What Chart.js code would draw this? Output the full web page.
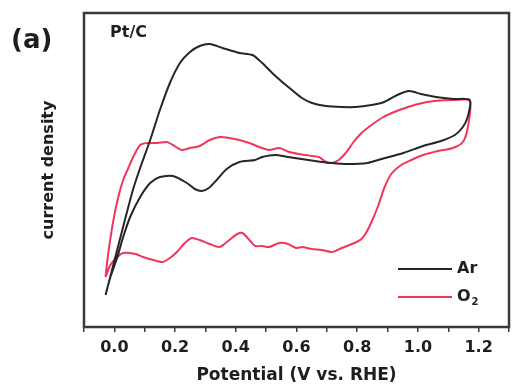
<!DOCTYPE html>
<html>
<head>
<meta charset="utf-8">
<script src="https://cdn.jsdelivr.net/npm/chart.js@4.4.0/dist/chart.umd.min.js"></script>
<style>
  html, body { margin: 0; padding: 0; background: #fff; }
  #wrap { width: 512px; height: 387px; }
</style>
</head>
<body>
<div id="wrap"><canvas id="chartCV" width="512" height="387"></canvas></div>
<script>
// Ar loop (potential V vs RHE, current density arb. units)
const arPotential = [-0.029, -0.006, 0.016, 0.039, 0.062, 0.085, 0.118, 0.150, 0.183, 0.216, 0.249, 0.281, 0.314, 0.356, 0.412, 0.455, 0.487, 0.520, 0.553, 0.585, 0.618, 0.651, 0.697, 0.749, 0.795, 0.847, 0.889, 0.932, 0.971, 1.010, 1.060, 1.118, 1.171,
  1.164, 1.148, 1.122, 1.076, 1.017, 0.952, 0.880, 0.834, 0.768, 0.716, 0.661, 0.572, 0.530, 0.487, 0.464, 0.412, 0.370, 0.337, 0.311, 0.288, 0.265, 0.239, 0.193, 0.150, 0.118, 0.085, 0.052, 0.029, 0.010, -0.013, -0.029]
const arCurrent = [32, 59, 85, 112, 138, 159, 187, 217, 244, 264, 275, 281, 283, 279, 274, 272, 264, 254, 245, 237, 229, 224, 221, 220, 220, 222, 225, 232, 236, 233, 230, 228, 227,
  210, 200, 192, 186, 181, 174, 168, 164, 163, 164, 166, 170, 172, 170, 167, 165, 158, 147, 139, 136, 138, 144, 151, 150, 144, 130, 110, 90, 70, 50, 32]

// O2 loop
const o2Potential = [-0.029, -0.020, -0.003, 0.013, 0.029, 0.046, 0.062, 0.085, 0.108, 0.141, 0.173, 0.193, 0.222, 0.249, 0.281, 0.314, 0.347, 0.379, 0.412, 0.445, 0.477, 0.510, 0.543, 0.576, 0.608, 0.651, 0.674, 0.697, 0.716, 0.739, 0.762, 0.788, 0.814, 0.847, 0.886, 0.922, 0.958, 1.001, 1.053, 1.118, 1.171,
  1.164, 1.148, 1.115, 1.066, 1.017, 0.978, 0.945, 0.912, 0.889, 0.870, 0.850, 0.831, 0.814, 0.791, 0.749, 0.716, 0.683, 0.651, 0.618, 0.598, 0.572, 0.543, 0.510, 0.487, 0.464, 0.445, 0.422, 0.405, 0.379, 0.347, 0.314, 0.281, 0.255, 0.232, 0.206, 0.183, 0.160, 0.128, 0.095, 0.069, 0.029, 0.010, -0.013, -0.029]
const o2Current = [50, 74, 107, 130, 147, 159, 170, 182, 184, 184, 185, 182, 177, 179, 181, 187, 190, 189, 187, 184, 180, 177, 179, 175, 173, 171, 170, 165, 164, 167, 174, 185, 194, 202, 210, 215, 219, 223, 226, 227, 226,
  199, 185, 179, 176, 172, 167, 162, 153, 139, 122, 107, 95, 88, 84, 79, 75, 77, 78, 80, 79, 83, 84, 80, 81, 81, 87, 94, 93, 87, 80, 83, 87, 89, 84, 75, 69, 65, 67, 70, 73, 74, 70, 62, 50]

const seriesNames = ['Ar', 'O2']
const seriesColors = ['#262626', '#f2355b']
const tickLabels = ['0.0', '0.2', '0.4', '0.6', '0.8', '1.0', '1.2']

const toPoints = (xs, ys) => xs.map((x, i) => ({ x: x, y: ys[i] }))

const fontFamily = '"DejaVu Sans", "Liberation Sans", Arial, sans-serif'

const decorations = {
    id: 'decorations',
    afterDraw(chart){
        const ctx = chart.ctx
        const a = chart.chartArea
        ctx.save()
        // frame
        ctx.strokeStyle = '#3a3a3a'
        ctx.lineWidth = 2.5
        ctx.strokeRect(a.left, a.top, a.right - a.left, a.bottom - a.top)

        ctx.fillStyle = '#1e1e1e'
        ctx.textBaseline = 'middle'
        ctx.textAlign = 'left'
        ctx.font = 'bold 26px ' + fontFamily
        ctx.fillText('(a)', 11, 41)
        ctx.font = 'bold 16px ' + fontFamily
        ctx.fillText('Pt/C', 110, 33)

        // axis titles
        ctx.textAlign = 'center'
        ctx.font = 'bold 17px ' + fontFamily
        ctx.fillText('Potential (V vs. RHE)', (a.left + a.right) / 2, 376)
        ctx.save()
        ctx.translate(49, (a.top + a.bottom) / 2)
        ctx.rotate(-Math.PI / 2)
        ctx.font = 'bold 16px ' + fontFamily
        ctx.fillText('current density', 0, 0)
        ctx.restore()

        // legend
        const rows = [269, 297]
        rows.forEach((y, i) => {
            ctx.strokeStyle = seriesColors[i]
            ctx.lineWidth = 2
            ctx.beginPath()
            ctx.moveTo(398, y)
            ctx.lineTo(452, y)
            ctx.stroke()
            ctx.textAlign = 'left'
            ctx.font = 'bold 16px ' + fontFamily
            if(i === 0){
                ctx.fillText(seriesNames[0], 457, y)
            }else{
                ctx.fillText('O', 457, y)
                const w = ctx.measureText('O').width
                ctx.font = 'bold 10px ' + fontFamily
                ctx.fillText('2', 457 + w + 1, y + 5)
            }
        })
        ctx.restore()
    }
}

const ctx1 = document.querySelector('#chartCV').getContext('2d')

new Chart(ctx1, {
    type: 'scatter',
    data: {
        datasets: [{
            label: seriesNames[0],
            data: toPoints(arPotential, arCurrent),
            showLine: true,
            borderColor: seriesColors[0],
            borderWidth: 2,
            pointRadius: 0,
            tension: 0.25
        }, {
            label: seriesNames[1],
            data: toPoints(o2Potential, o2Current),
            showLine: true,
            borderColor: seriesColors[1],
            borderWidth: 2,
            pointRadius: 0,
            tension: 0.25
        }]
    },
    options: {
        responsive: false,
        animation: false,
        layout: {
            padding: { top: 13, right: 3, left: 0, bottom: 0 }
        },
        plugins: {
            legend: { display: false },
            tooltip: { enabled: false }
        },
        scales: {
            x: {
                type: 'linear',
                min: -0.1,
                max: 1.3,
                afterFit(scale){
                    scale.height = 60
                    scale.paddingLeft = 0
                    scale.paddingRight = 0
                },
                border: { display: false },
                grid: {
                    drawOnChartArea: false,
                    drawTicks: true,
                    tickLength: 5,
                    color: '#3a3a3a',
                    lineWidth: 1.5
                },
                ticks: {
                    stepSize: 0.1,
                    padding: 6,
                    autoSkip: false,
                    maxRotation: 0,
                    minRotation: 0,
                    color: '#1e1e1e',
                    font: { family: fontFamily, weight: 'bold', size: 16 },
                    callback(value){
                        const k = Math.round(value * 10)
                        if(k < 0 || k % 2 !== 0) return ''
                        return tickLabels[k / 2] || ''
                    }
                }
            },
            y: {
                type: 'linear',
                min: 0,
                max: 314,
                afterFit(scale){ scale.width = 84 },
                border: { display: false },
                grid: { display: false },
                ticks: { display: false }
            }
        }
    },
    plugins: [decorations]
})
</script>
</body>
</html>
